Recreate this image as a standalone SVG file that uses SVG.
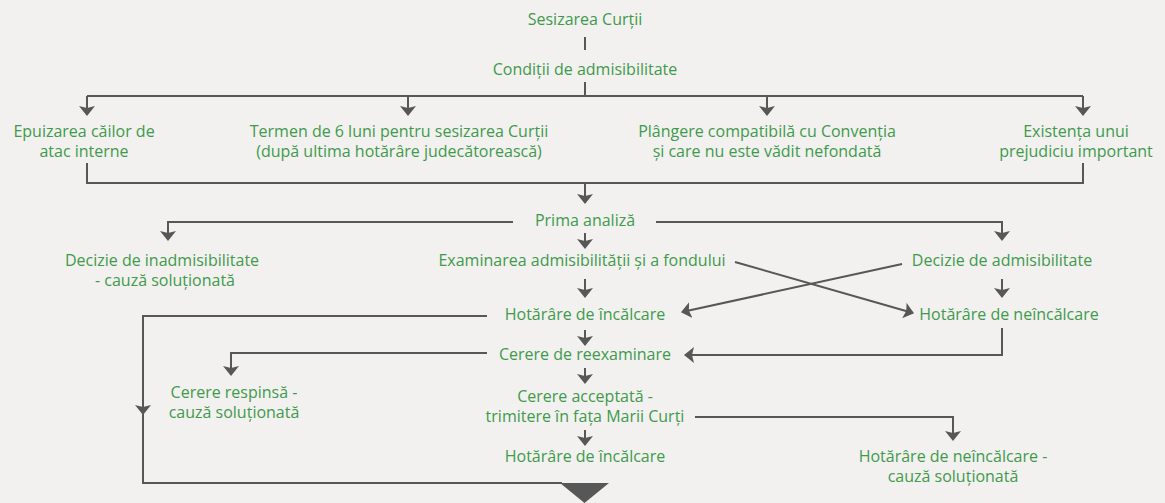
<svg xmlns="http://www.w3.org/2000/svg" width="1165" height="503" viewBox="0 0 1165 503">
<style>
text{font-family:"Open Sans","Noto Sans","DejaVu Sans",sans-serif;font-size:16px;fill:#3f9a4c;text-anchor:middle}
.c{fill:none;stroke:#575757;stroke-width:2}
.h{fill:#575757;stroke:none}
</style>
<defs>
<marker id="a" markerUnits="userSpaceOnUse" markerWidth="10" markerHeight="16" viewBox="0 0 10 16" refX="9" refY="8" orient="auto">
<path d="M0,0 L10,8 L0,16 L2,8 Z" fill="#575757"/>
</marker>
</defs>
<rect width="1165" height="503" fill="#f2f1ef"/>
<g id="connectors">
<path class="c" d="M585,37 V50"/>
<path class="c" d="M585,82 V96 M87,96 H1083"/>
<path class="c" d="M87,96 V115" marker-end="url(#a)"/>
<path class="c" d="M408,96 V115" marker-end="url(#a)"/>
<path class="c" d="M767,96 V115" marker-end="url(#a)"/>
<path class="c" d="M1083,96 V115" marker-end="url(#a)"/>
<path class="c" d="M87,163 V183 H1083 V163"/>
<path class="c" d="M585,183 V203" marker-end="url(#a)"/>
<path class="c" d="M513,222 H168 V240" marker-end="url(#a)"/>
<path class="c" d="M656,222 H1002 V240" marker-end="url(#a)"/>
<path class="c" d="M585,233 V248" marker-end="url(#a)"/>
<path class="c" d="M585,279 V297" marker-end="url(#a)"/>
<path class="c" d="M1002,279 V297" marker-end="url(#a)"/>
<path class="c" d="M735,262 L913,313" marker-end="url(#a)"/>
<path class="c" d="M902,264 L682,312" marker-end="url(#a)"/>
<path class="c" d="M487,316 H143 V414" marker-end="url(#a)"/>
<path class="c" d="M143,412 V483 H562"/>
<path class="h" d="M560,483 H609 L584.5,503 Z"/>
<path class="c" d="M585,330 V345" marker-end="url(#a)"/>
<path class="c" d="M487,353 H231 V375" marker-end="url(#a)"/>
<path class="c" d="M1002,328 V355 H685" marker-end="url(#a)"/>
<path class="c" d="M585,368 V383" marker-end="url(#a)"/>
<path class="c" d="M695,417 H953 V440" marker-end="url(#a)"/>
<path class="c" d="M585,430 V445" marker-end="url(#a)"/>
</g>
<g id="n1"><text x="585" y="25">Sesizarea Curții</text></g>
<g id="n2"><text x="585" y="75">Condiții de admisibilitate</text></g>
<g id="n3"><text x="84" y="137">Epuizarea căilor de</text><text x="84" y="157">atac interne</text></g>
<g id="n4"><text x="399" y="137">Termen de 6 luni pentru sesizarea Curții</text><text x="399" y="157">(după ultima hotărâre judecătorească)</text></g>
<g id="n5"><text x="767" y="137">Plângere compatibilă cu Convenția</text><text x="767" y="157">și care nu este vădit nefondată</text></g>
<g id="n6"><text x="1076" y="137">Existența unui</text><text x="1076" y="157">prejudiciu important</text></g>
<g id="n7"><text x="585" y="226">Prima analiză</text></g>
<g id="n8"><text x="162" y="266">Decizie de inadmisibilitate</text><text x="165" y="286">- cauză soluționată</text></g>
<g id="n9"><text x="582" y="266">Examinarea admisibilității și a fondului</text></g>
<g id="n10"><text x="1002" y="266">Decizie de admisibilitate</text></g>
<g id="n11"><text x="585" y="320">Hotărâre de încălcare</text></g>
<g id="n12"><text x="1009" y="320">Hotărâre de neîncălcare</text></g>
<g id="n13"><text x="585" y="360">Cerere de reexaminare</text></g>
<g id="n14"><text x="234" y="398">Cerere respinsă -</text><text x="234" y="418">cauză soluționată</text></g>
<g id="n15"><text x="585" y="402">Cerere acceptată -</text><text x="585" y="422">trimitere în fața Marii Curți</text></g>
<g id="n16"><text x="585" y="462">Hotărâre de încălcare</text></g>
<g id="n17"><text x="953" y="462">Hotărâre de neîncălcare -</text><text x="953" y="482">cauză soluționată</text></g>
</svg>
